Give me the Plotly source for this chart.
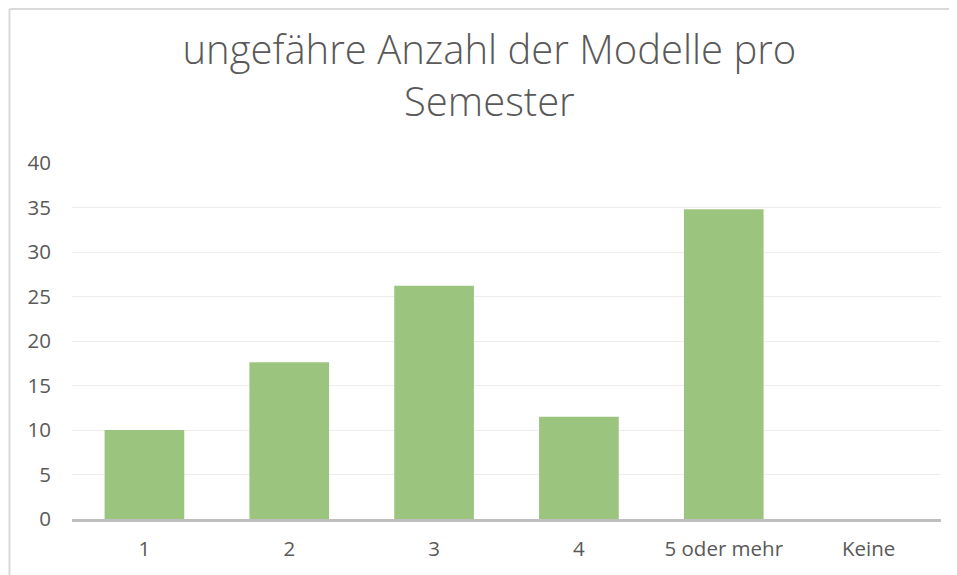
import plotly.graph_objects as go

categories = ["1", "2", "3", "4", "5 oder mehr", "Keine"]
values = [10.0, 17.6, 26.2, 11.5, 34.8, 0]
y_ticks = [0, 5, 10, 15, 20, 25, 30, 35, 40]

W, H = 957, 575
L, R, T, B = 64, 24, 155, 64
pw, ph = W - L - R, H - T - B

fig = go.Figure(go.Bar(x=categories, y=values, marker=dict(color="#9BC47F", line=dict(width=0))))

fig.update_layout(
    width=W, height=H,
    margin=dict(l=L, r=R, t=T, b=B),
    paper_bgcolor="white", plot_bgcolor="white",
    bargap=0.45,
    font=dict(family="Open Sans, Noto Sans, sans-serif", color="#595959", size=20),
    title=dict(text="ungefähre Anzahl der Modelle pro<br>Semester", x=0.503, xanchor="center",
               y=0.903, yanchor="middle",
               font=dict(size=40, color="#595959", family="Open Sans, sans-serif", weight=300)),
    showlegend=False,
    xaxis=dict(showline=True, linecolor="#BFBFBF", linewidth=2.5, ticks="outside", ticklen=10,
               tickcolor="rgba(0,0,0,0)", tickfont=dict(size=20.5), showgrid=False),
    yaxis=dict(range=[0, 40], tickvals=y_ticks, showgrid=True, gridcolor="#EDEDED", gridwidth=1.2,
               zeroline=False, ticks="outside", ticklen=16, tickcolor="rgba(0,0,0,0)",
               tickfont=dict(size=20.5)),
    shapes=[
        dict(type="line", xref="paper", yref="paper", x0=-(L - 1.5) / pw, x1=-(L - 1.5) / pw,
             y0=-B / ph - 0.05, y1=1 + (T - 1) / ph, line=dict(color="#D9D9D9", width=2)),
        dict(type="line", xref="paper", yref="paper", x0=-(L - 1.5) / pw, x1=1 + R / pw + 0.05,
             y0=1 + (T - 1) / ph, y1=1 + (T - 1) / ph, line=dict(color="#D9D9D9", width=2)),
    ],
)

fig.write_html("out.html")
